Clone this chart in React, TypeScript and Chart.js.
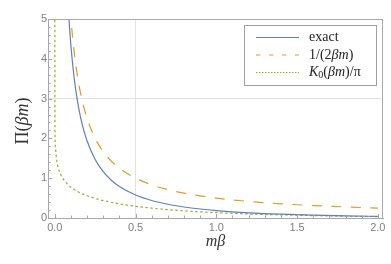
import React, { useEffect, useRef } from 'react';
import { Chart, registerables } from 'chart.js';

Chart.register(...registerables);

// x positions (mβ) for the exact and classical curves
const xMain = [0.08, 0.09, 0.1, 0.12, 0.14, 0.16, 0.18, 0.2, 0.25, 0.3, 0.35, 0.4, 0.5, 0.6, 0.7, 0.8, 0.9, 1.0, 1.2, 1.4, 1.6, 1.8, 2.0];
const exactVals = [5.537, 4.861, 4.323, 3.518, 2.948, 2.522, 2.194, 1.933, 1.468, 1.164, 0.95, 0.793, 0.578, 0.44, 0.345, 0.277, 0.226, 0.187, 0.131, 0.095, 0.07, 0.053, 0.04];
const classicalVals = [6.25, 5.556, 5.0, 4.167, 3.571, 3.125, 2.778, 2.5, 2.0, 1.667, 1.429, 1.25, 1.0, 0.833, 0.714, 0.625, 0.556, 0.5, 0.417, 0.357, 0.3125, 0.278, 0.25];
// x positions for the K0 curve
const xK0 = [0, 0.001, 0.005, 0.01, 0.02, 0.04, 0.06, 0.08, 0.1, 0.15, 0.2, 0.25, 0.3, 0.4, 0.5, 0.6, 0.7, 0.8, 0.9, 1.0, 1.2, 1.4, 1.6, 1.8, 2.0];
const k0Vals = [8, 2.236, 1.723, 1.503, 1.282, 1.062, 0.934, 0.843, 0.773, 0.646, 0.558, 0.491, 0.437, 0.355, 0.294, 0.248, 0.21, 0.18, 0.155, 0.134, 0.101, 0.078, 0.06, 0.046, 0.036];

const xTicks = [0, 0.5, 1.0, 1.5, 2.0];
const yTicks = [0, 1, 2, 3, 4, 5];
const xMinorTicks = [0.1, 0.2, 0.3, 0.4, 0.6, 0.7, 0.8, 0.9, 1.1, 1.2, 1.3, 1.4, 1.6, 1.7, 1.8, 1.9];
const yMinorTicks = [0.2, 0.4, 0.6, 0.8, 1.2, 1.4, 1.6, 1.8, 2.2, 2.4, 2.6, 2.8, 3.2, 3.4, 3.6, 3.8, 4.2, 4.4, 4.6, 4.8];
const xGridAt = [0.5];
const yGridAt = [3];

const BLUE = '#5e81b5';
const ORANGE = '#e19c24';
const GREEN = '#8fb032';
const AXIS = '#a8a8a8';
const SERIF = '"Liberation Serif", "Times New Roman", serif';

type Seg = { t: string; it?: boolean; size?: number; dy?: number };

function drawRich(ctx: CanvasRenderingContext2D, x: number, y: number, segs: Seg[], base: number, align: 'left' | 'center') {
  const fontFor = (s: Seg) => `${s.it ? 'italic ' : ''}${s.size || base}px ${SERIF}`;
  let total = 0;
  for (const s of segs) {
    ctx.font = fontFor(s);
    total += ctx.measureText(s.t).width;
  }
  let cx = align === 'center' ? x - total / 2 : x;
  ctx.textBaseline = 'middle';
  ctx.textAlign = 'left';
  for (const s of segs) {
    ctx.font = fontFor(s);
    ctx.fillText(s.t, cx, y + (s.dy || 0));
    cx += ctx.measureText(s.t).width;
  }
}

const framePlugin = {
  id: 'frameDecor',
  afterDatasetsDraw(chart: any) {
    const { ctx, chartArea: a, scales } = chart;
    const xs = scales.x;
    const ys = scales.y;
    ctx.save();
    ctx.strokeStyle = AXIS;
    ctx.lineWidth = 1;
    // top and right frame
    ctx.beginPath();
    ctx.moveTo(a.left, a.top + 0.5);
    ctx.lineTo(a.right, a.top + 0.5);
    ctx.moveTo(a.right - 0.5, a.top);
    ctx.lineTo(a.right - 0.5, a.bottom);
    ctx.stroke();
    // inward ticks
    ctx.beginPath();
    for (const v of xTicks) {
      const px = Math.round(xs.getPixelForValue(v)) + 0.5;
      ctx.moveTo(px, a.bottom);
      ctx.lineTo(px, a.bottom - 4);
    }
    for (const v of xMinorTicks) {
      const px = Math.round(xs.getPixelForValue(v)) + 0.5;
      ctx.moveTo(px, a.bottom);
      ctx.lineTo(px, a.bottom - 2.5);
    }
    for (const v of yTicks) {
      const py = Math.round(ys.getPixelForValue(v)) + 0.5;
      ctx.moveTo(a.left, py);
      ctx.lineTo(a.left + 4, py);
    }
    for (const v of yMinorTicks) {
      const py = Math.round(ys.getPixelForValue(v)) + 0.5;
      ctx.moveTo(a.left, py);
      ctx.lineTo(a.left + 2.5, py);
    }
    ctx.stroke();
    ctx.restore();
  },
  afterDraw(chart: any) {
    const { ctx, chartArea: a } = chart;
    ctx.save();
    ctx.fillStyle = '#333333';
    // x-axis title
    drawRich(ctx, (a.left + a.right) / 2, 242, [{ t: 'm', it: true }, { t: 'β', it: true }], 16, 'center');
    // y-axis title
    ctx.save();
    ctx.translate(23, 121);
    ctx.rotate(-Math.PI / 2);
    drawRich(ctx, 0, 0, [{ t: 'Π(' }, { t: 'βm', it: true }, { t: ')' }], 18, 'center');
    ctx.restore();

    // legend
    const bx = 244.5, by = 25.5, bw = 132, bh = 60;
    ctx.fillStyle = '#ffffff';
    ctx.fillRect(bx, by, bw, bh);
    ctx.strokeStyle = '#a0a0a0';
    ctx.lineWidth = 1;
    ctx.strokeRect(bx, by, bw, bh);
    const rows = [
      { y: 37.5, color: BLUE, dash: [] as number[], segs: [{ t: 'exact' }] as Seg[] },
      { y: 55, color: ORANGE, dash: [4.5, 8.5], segs: [{ t: '1/(2' }, { t: 'βm', it: true }, { t: ')' }] as Seg[] },
      { y: 72.5, color: GREEN, dash: [1.5, 1.5], segs: [{ t: 'K', it: true }, { t: '0', size: 10, dy: 3 }, { t: '(' }, { t: 'βm', it: true }, { t: ')/π' }] as Seg[] },
    ];
    for (const r of rows) {
      ctx.strokeStyle = r.color;
      ctx.lineWidth = 1.2;
      ctx.setLineDash(r.dash);
      ctx.beginPath();
      ctx.moveTo(256, r.y);
      ctx.lineTo(299, r.y);
      ctx.stroke();
      ctx.setLineDash([]);
      ctx.fillStyle = '#222222';
      drawRich(ctx, 309, r.y, r.segs, 14, 'left');
    }
    ctx.restore();
  },
};

export default function App() {
  const ref = useRef<HTMLCanvasElement | null>(null);

  useEffect(() => {
    if (!ref.current) return;
    const toPts = (xs: number[], ys: number[]) => xs.map((x, i) => ({ x, y: ys[i] }));
    const chart = new Chart(ref.current, {
      type: 'line',
      data: {
        datasets: [
          {
            label: 'exact',
            data: toPts(xMain, exactVals),
            borderColor: BLUE,
            borderWidth: 1.2,
            pointRadius: 0,
            cubicInterpolationMode: 'monotone',
            fill: false,
          },
          {
            label: '1/(2βm)',
            data: toPts(xMain, classicalVals),
            borderColor: ORANGE,
            borderWidth: 1.2,
            borderDash: [10, 9.5],
            pointRadius: 0,
            cubicInterpolationMode: 'monotone',
            fill: false,
          },
          {
            label: 'K0(βm)/π',
            data: toPts(xK0, k0Vals),
            borderColor: GREEN,
            borderWidth: 1.2,
            borderDash: [2.5, 2.5],
            pointRadius: 0,
            cubicInterpolationMode: 'monotone',
            fill: false,
          },
        ],
      },
      options: {
        animation: false,
        responsive: false,
        devicePixelRatio: 1,
        layout: { padding: { top: 19, right: 8, left: 0, bottom: 0 } },
        plugins: { legend: { display: false }, tooltip: { enabled: false } },
        scales: {
          x: {
            type: 'linear',
            min: -0.042,
            max: 2.032,
            afterBuildTicks: (s: any) => {
              s.ticks = xTicks.map((v) => ({ value: v }));
            },
            afterFit: (s: any) => {
              s.height = 46;
            },
            ticks: {
              callback: (v: any) => Number(v).toFixed(1),
              color: '#808080',
              font: { family: '"Liberation Sans", Arial, sans-serif', size: 11 },
              padding: 3,
              maxRotation: 0,
              autoSkip: false,
            },
            grid: {
              color: (c: any) => (c.tick && xGridAt.includes(c.tick.value) ? '#e2e2e2' : 'rgba(0,0,0,0)'),
              drawTicks: false,
            },
            border: { color: AXIS, width: 1 },
          },
          y: {
            type: 'linear',
            min: 0,
            max: 5,
            afterBuildTicks: (s: any) => {
              s.ticks = yTicks.map((v) => ({ value: v }));
            },
            afterFit: (s: any) => {
              s.width = 48;
            },
            ticks: {
              callback: (v: any) => String(v),
              color: '#808080',
              font: { family: '"Liberation Sans", Arial, sans-serif', size: 11 },
              padding: 1,
              autoSkip: false,
            },
            grid: {
              color: (c: any) => (c.tick && yGridAt.includes(c.tick.value) ? '#e2e2e2' : 'rgba(0,0,0,0)'),
              drawTicks: false,
            },
            border: { color: AXIS, width: 1 },
          },
        },
      },
      plugins: [framePlugin],
    });
    return () => chart.destroy();
  }, []);

  return (
    <div style={{ position: 'fixed', left: 0, top: 0, width: 391, height: 264, background: '#ffffff' }}>
      <canvas ref={ref} width={391} height={264} style={{ display: 'block', width: 391, height: 264 }} />
    </div>
  );
}
